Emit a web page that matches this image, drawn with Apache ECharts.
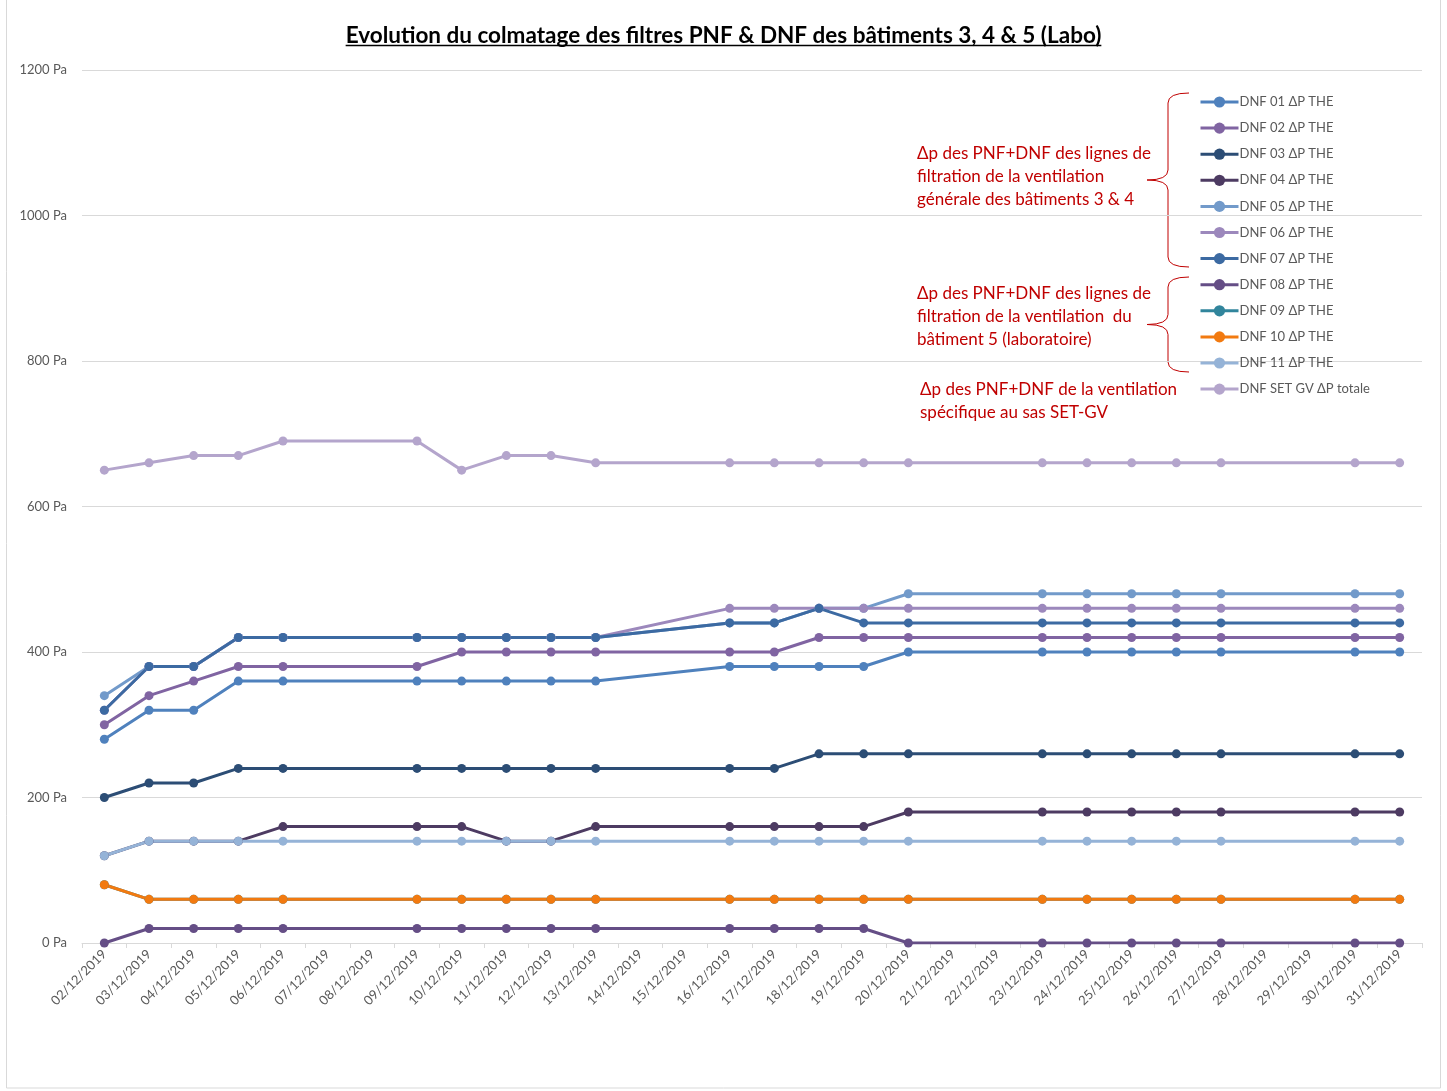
<!DOCTYPE html>
<html>
<head>
<meta charset="utf-8">
<script src="https://cdn.jsdelivr.net/npm/echarts@6/dist/echarts.min.js"></script>
<style>
  html, body { margin: 0; padding: 0; background: #fff; }
  #chartDiv { width: 1447px; height: 1091px; }
</style>
</head>
<body>
<div id="chartDiv"></div>
<script>
let n = null;   // no reading that day (week-end)

let dates = ['02/12/2019','03/12/2019','04/12/2019','05/12/2019','06/12/2019','07/12/2019','08/12/2019',
             '09/12/2019','10/12/2019','11/12/2019','12/12/2019','13/12/2019','14/12/2019','15/12/2019',
             '16/12/2019','17/12/2019','18/12/2019','19/12/2019','20/12/2019','21/12/2019','22/12/2019',
             '23/12/2019','24/12/2019','25/12/2019','26/12/2019','27/12/2019','28/12/2019','29/12/2019',
             '30/12/2019','31/12/2019'];

let yTicks = [0, 200, 400, 600, 800, 1000, 1200];

let dnf01 = [280,320,320,360,360,n,n,360,360,360,360,360,n,n,380,380,380,380,400,n,n,400,400,400,400,400,n,n,400,400];
let dnf02 = [300,340,360,380,380,n,n,380,400,400,400,400,n,n,400,400,420,420,420,n,n,420,420,420,420,420,n,n,420,420];
let dnf03 = [200,220,220,240,240,n,n,240,240,240,240,240,n,n,240,240,260,260,260,n,n,260,260,260,260,260,n,n,260,260];
let dnf04 = [120,140,140,140,160,n,n,160,160,140,140,160,n,n,160,160,160,160,180,n,n,180,180,180,180,180,n,n,180,180];
let dnf05 = [340,380,380,420,420,n,n,420,420,420,420,420,n,n,440,440,460,460,480,n,n,480,480,480,480,480,n,n,480,480];
let dnf06 = [320,380,380,420,420,n,n,420,420,420,420,420,n,n,460,460,460,460,460,n,n,460,460,460,460,460,n,n,460,460];
let dnf07 = [320,380,380,420,420,n,n,420,420,420,420,420,n,n,440,440,460,440,440,n,n,440,440,440,440,440,n,n,440,440];
let dnf08 = [0,20,20,20,20,n,n,20,20,20,20,20,n,n,20,20,20,20,0,n,n,0,0,0,0,0,n,n,0,0];
let dnf09 = [80,60,60,60,60,n,n,60,60,60,60,60,n,n,60,60,60,60,60,n,n,60,60,60,60,60,n,n,60,60];
let dnf10 = [80,60,60,60,60,n,n,60,60,60,60,60,n,n,60,60,60,60,60,n,n,60,60,60,60,60,n,n,60,60];
let dnf11 = [120,140,140,140,140,n,n,140,140,140,140,140,n,n,140,140,140,140,140,n,n,140,140,140,140,140,n,n,140,140];
let setGV = [650,660,670,670,690,n,n,690,650,670,670,660,n,n,660,660,660,660,660,n,n,660,660,660,660,660,n,n,660,660];

let seriesNames = ['DNF 01 ΔP THE','DNF 02 ΔP THE','DNF 03 ΔP THE','DNF 04 ΔP THE','DNF 05 ΔP THE','DNF 06 ΔP THE',
                   'DNF 07 ΔP THE','DNF 08 ΔP THE','DNF 09 ΔP THE','DNF 10 ΔP THE','DNF 11 ΔP THE','DNF SET GV ΔP totale'];
let seriesData = [dnf01, dnf02, dnf03, dnf04, dnf05, dnf06, dnf07, dnf08, dnf09, dnf10, dnf11, setGV];
let seriesColors = ['#4F81BD','#8064A2','#2C4D75','#4D3B62','#729ACA','#9C88BC',
                    '#3C6AA2','#654E86','#31859C','#F27A10','#95B3D7','#B4A5CC'];

let titleText = 'Evolution du colmatage des filtres PNF & DNF des bâtiments 3, 4 & 5 (Labo)';
let font = 'Lato, "Noto Sans", sans-serif';

// width of the title, for the underline
let cnv = document.createElement('canvas').getContext('2d');
cnv.font = 'bold 22.5px ' + font;
let titleW = cnv.measureText(titleText).width;

let chartDom = document.getElementById('chartDiv');
let myChart = echarts.init(chartDom);

let series = [];
for (let i = 0; i < seriesData.length; i++) {
    series.push({
        name: seriesNames[i],
        type: 'line',
        data: seriesData[i],
        connectNulls: true,
        symbol: 'circle',
        symbolSize: 9,
        color: seriesColors[i],
        lineStyle: { width: 3 },
        emphasis: { disabled: true },
        animation: false
    });
}

let red = '#C00000';
let noteStyle = { fill: red, font: '17px ' + font, lineHeight: 23 };

// curly brace, opening to the right, tip on the left
function brace(top, bottom, x, hookX, tipX) {
    let mid = (top + bottom) / 2;
    let st = { fill: 'none', stroke: red, lineWidth: 1 };
    return [
        { type: 'bezierCurve', silent: true, shape: { x1: hookX, y1: top, x2: x, y2: top + 10, cpx1: x, cpy1: top }, style: st },
        { type: 'line', silent: true, shape: { x1: x, y1: top + 10, x2: x, y2: mid - 10 }, style: st },
        { type: 'bezierCurve', silent: true, shape: { x1: x, y1: mid - 10, x2: tipX, y2: mid, cpx1: x, cpy1: mid }, style: st },
        { type: 'bezierCurve', silent: true, shape: { x1: tipX, y1: mid, x2: x, y2: mid + 10, cpx1: x, cpy1: mid }, style: st },
        { type: 'line', silent: true, shape: { x1: x, y1: mid + 10, x2: x, y2: bottom - 10 }, style: st },
        { type: 'bezierCurve', silent: true, shape: { x1: x, y1: bottom - 10, x2: hookX, y2: bottom, cpx1: x, cpy1: bottom }, style: st }
    ];
}

let option = {
    backgroundColor: '#fff',
    animation: false,
    title: {
        text: titleText,
        left: 'center',
        top: 19,
        textStyle: { fontFamily: font, fontSize: 22.5, fontWeight: 'bold', color: '#000' }
    },
    legend: {
        orient: 'vertical',
        left: 1194,
        top: 90,
        itemWidth: 38,
        itemHeight: 14,
        itemGap: 12.1,
        lineStyle: { width: 3 },
        textStyle: { fontFamily: font, fontSize: 13, lineHeight: 14, color: '#595959', padding: [0, 0, 0, -4] },
        data: seriesNames
    },
    grid: { left: 82, right: 25, top: 70, bottom: 148, containLabel: false },
    xAxis: {
        type: 'category',
        data: dates,
        boundaryGap: true,
        axisLine: { lineStyle: { color: '#d9d9d9', width: 1 } },
        axisTick: { show: true, length: 5, lineStyle: { color: '#d9d9d9' } },
        axisLabel: { rotate: 45, interval: 0, fontFamily: font, fontSize: 13, color: '#595959', margin: 9 },
        splitLine: { show: false }
    },
    yAxis: {
        type: 'value',
        min: yTicks[0],
        max: yTicks[yTicks.length - 1],
        interval: 200,
        axisLine: { show: false },
        axisTick: { show: false },
        axisLabel: { formatter: function (v) { return v + ' Pa'; }, fontFamily: font, fontSize: 13, color: '#595959', margin: 15 },
        splitLine: { lineStyle: { color: '#d9d9d9', width: 1 } }
    },
    graphic: [
        { type: 'rect', silent: true, shape: { x: 6.5, y: -2, width: 1434, height: 1090 },
          style: { fill: 'none', stroke: '#d9d9d9', lineWidth: 1 } },
        { type: 'line', silent: true, shape: { x1: 723.5 - titleW / 2, y1: 45.5, x2: 723.5 + titleW / 2, y2: 45.5 },
          style: { stroke: '#000', lineWidth: 1.5 } },
        { type: 'text', x: 917, y: 142, style: Object.assign({ text: 'Δp des PNF+DNF des lignes de\nfiltration de la ventilation\ngénérale des bâtiments 3 & 4' }, noteStyle) },
        { type: 'text', x: 917, y: 282, style: Object.assign({ text: 'Δp des PNF+DNF des lignes de\nfiltration de la ventilation  du\nbâtiment 5 (laboratoire)' }, noteStyle) },
        { type: 'text', x: 920, y: 378, style: Object.assign({ text: 'Δp des PNF+DNF de la ventilation\nspécifique au sas SET-GV' }, noteStyle) }
    ].concat(brace(93, 267, 1168, 1189, 1147), brace(277, 372, 1168, 1189, 1147)),
    series: series
};

option && myChart.setOption(option);
</script>
</body>
</html>
